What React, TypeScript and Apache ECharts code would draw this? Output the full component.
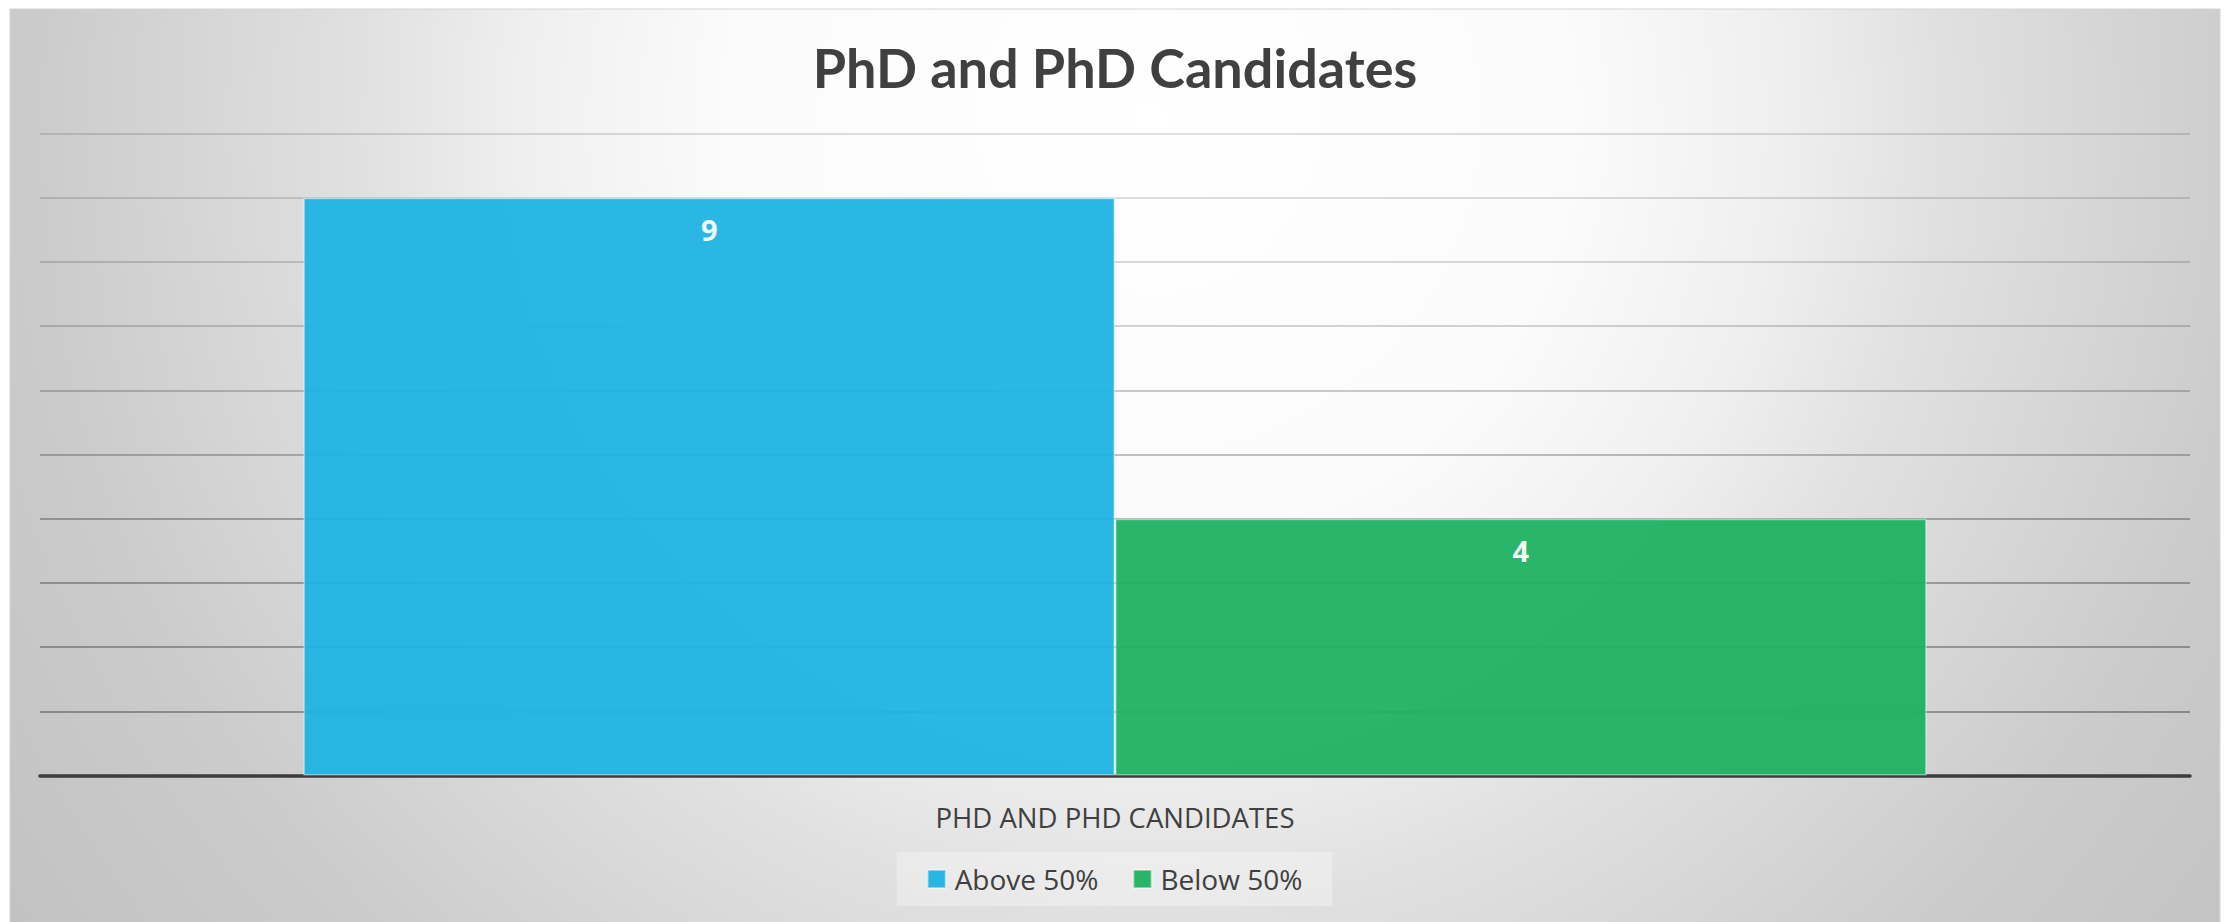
import React, { useEffect, useRef } from "react";
import * as echarts from "echarts";

const chartTitle = "PhD and PhD Candidates";
const categories = ["PhD and PhD Candidates"];
const seriesNames = ["Above 50%", "Below 50%"];
const aboveValues = [9];
const belowValues = [4];
const yMin = 0;
const yMax = 10;
const yInterval = 1;

const gridAlphas = [0.32, 0.31, 0.3, 0.29, 0.28, 0.24, 0.2, 0.17, 0.15, 0.13, 0.12];

export default function App() {
  const ref = useRef<HTMLDivElement>(null);

  useEffect(() => {
    document.body.style.margin = "0";
    if (!ref.current) return;
    const chart = echarts.init(ref.current, undefined, { renderer: "svg" });

    const labelStyle = {
      show: true,
      position: "insideTop",
      distance: 17,
      color: "#ffffff",
      fontSize: 29,
      fontWeight: "bold",
      fontFamily: "Open Sans",
    };

    const option: any = {
      animation: false,
      backgroundColor: "#ffffff",
      graphic: [
        {
          type: "rect",
          z: -100,
          silent: true,
          shape: { x: 10, y: 9, width: 2210, height: 920 },
          style: {
            fill: {
              type: "radial",
              x: 1150,
              y: 120,
              r: 1400,
              global: true,
              colorStops: [
                { offset: 0, color: "#ffffff" },
                { offset: 0.3, color: "#fbfbfb" },
                { offset: 0.45, color: "#efefef" },
                { offset: 0.56, color: "#e1e1e1" },
                { offset: 0.7, color: "#d4d4d4" },
                { offset: 0.8, color: "#cbcbcb" },
                { offset: 1, color: "#c2c2c2" },
              ],
            },
            stroke: "#d4d4d4",
            lineWidth: 1,
          },
        },
        {
          type: "text",
          z: 100,
          x: 1115,
          y: 67,
          style: {
            text: chartTitle,
            textAlign: "center",
            textVerticalAlign: "middle",
            fill: "#404040",
            font: "bold 54px Lato",
          },
        },
      ],
      grid: { left: 40, right: 39, top: 133.5, bottom: 146.5, containLabel: false },
      legend: {
        data: seriesNames,
        left: "center",
        top: 852,
        padding: [13, 30],
        itemGap: 34,
        itemWidth: 18,
        itemHeight: 18,
        icon: "rect",
        backgroundColor: "rgba(255,255,255,0.3)",
        textStyle: {
          fontSize: 28,
          color: "#404040",
          fontFamily: "Open Sans",
          padding: [0, 0, 0, 4],
        },
      },
      xAxis: {
        type: "category",
        data: categories,
        axisLine: { show: true, lineStyle: { color: "#3c3c3c", width: 3.5 } },
        axisTick: { show: false },
        axisLabel: {
          formatter: (v: string) => v.toUpperCase(),
          fontSize: 27.5,
          fontFamily: "Open Sans",
          color: "#404040",
          margin: 28,
        },
      },
      yAxis: {
        type: "value",
        min: yMin,
        max: yMax,
        interval: yInterval,
        axisLabel: { show: false },
        axisLine: { show: false },
        axisTick: { show: false },
        splitLine: {
          show: true,
          lineStyle: {
            color: gridAlphas.map((a) => `rgba(0,0,0,${a})`),
            width: 2,
          },
        },
      },
      series: [
        {
          name: seriesNames[0],
          type: "bar",
          data: aboveValues,
          barGap: "0%",
          barCategoryGap: "24.5%",
          itemStyle: {
            color: "#1fb3e3",
            opacity: 0.95,
            borderColor: "rgba(255,255,255,0.45)",
            borderWidth: 1.5,
          },
          label: labelStyle,
        },
        {
          name: seriesNames[1],
          type: "bar",
          data: belowValues,
          barGap: "0%",
          barCategoryGap: "24.5%",
          itemStyle: {
            color: "#1eb162",
            opacity: 0.95,
            borderColor: "rgba(255,255,255,0.45)",
            borderWidth: 1.5,
          },
          label: labelStyle,
        },
      ],
    };

    chart.setOption(option);
    return () => {
      chart.dispose();
    };
  }, []);

  return (
    <div
      ref={ref}
      style={{ position: "absolute", left: 0, top: 0, width: 2229, height: 922 }}
    />
  );
}
